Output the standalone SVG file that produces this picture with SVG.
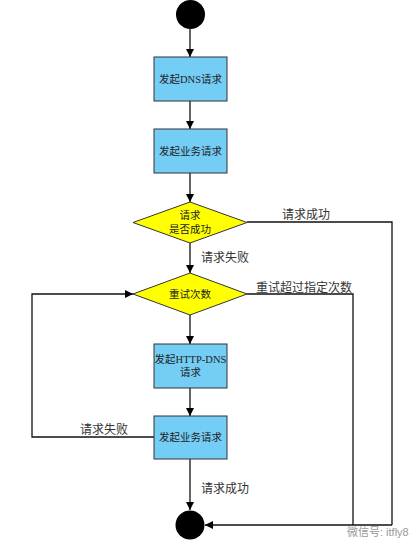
<svg xmlns="http://www.w3.org/2000/svg" width="420" height="553" viewBox="0 0 420 553">
<defs>
<marker id="arr" viewBox="0 0 10 10" refX="10" refY="5" markerWidth="8" markerHeight="8" markerUnits="userSpaceOnUse" orient="auto">
<path d="M0,0 L10,5 L0,10 z" fill="#000"/>
</marker>
<style>
.box{fill:#74CDF5;stroke:#333;stroke-width:1}
.dia{fill:#FFFF00;stroke:#333;stroke-width:1}
.term{fill:#000}
.bt{font-family:"Liberation Serif","Noto Sans CJK SC",serif;font-size:10.5px;fill:#222;text-anchor:middle}
.lbl{font-family:"Liberation Serif","Noto Sans CJK SC",serif;font-size:12px;fill:#333}
.ln{fill:none;stroke:#111;stroke-width:1.3}
.wm{font-family:"Liberation Sans","Noto Sans CJK SC",sans-serif;font-size:11px;fill:#999}
</style>
</defs>
<rect width="420" height="553" fill="#fff"/>
<g id="connectors">
<path class="ln" d="M190,29 V57" marker-end="url(#arr)"/>
<path class="ln" d="M190,101 V129" marker-end="url(#arr)"/>
<path class="ln" d="M190,173 V202" marker-end="url(#arr)"/>
<path class="ln" d="M190,243 V273" marker-end="url(#arr)"/>
<path class="ln" d="M190,315 V344" marker-end="url(#arr)"/>
<path class="ln" d="M190,388 V416" marker-end="url(#arr)"/>
<path class="ln" d="M190,459 V510" marker-end="url(#arr)"/>
<path class="ln" d="M154,437 H32 V294 H133" marker-end="url(#arr)"/>
<path class="ln" d="M247,222 H392 V525"/>
<path class="ln" d="M247,294 H353 V525"/>
<path class="ln" d="M392,525 H205" marker-end="url(#arr)"/>
<text class="lbl" x="282" y="219">请求成功</text>
<text class="lbl" x="201" y="262">请求失败</text>
<text class="lbl" x="256" y="292">重试超过指定次数</text>
<text class="lbl" x="80" y="434">请求失败</text>
<text class="lbl" x="201" y="493">请求成功</text>
</g>
<g id="start"><circle class="term" cx="190.5" cy="14.5" r="14.5"/></g>
<g id="dns"><rect class="box" x="154" y="57" width="73" height="44"/><text class="bt" x="190.5" y="83">发起DNS请求</text></g>
<g id="biz1"><rect class="box" x="154" y="129" width="73" height="44"/><text class="bt" x="190.5" y="155">发起业务请求</text></g>
<g id="check"><polygon class="dia" points="190,202 247,222.5 190,243 133,222.5"/><text class="bt" x="190" y="219">请求</text><text class="bt" x="190" y="233">是否成功</text></g>
<g id="retry"><polygon class="dia" points="190,273 247,294 190,315 133,294"/><text class="bt" x="190" y="298">重试次数</text></g>
<g id="httpdns"><rect class="box" x="154" y="344" width="73" height="44"/><text class="bt" x="190.5" y="363">发起HTTP-DNS</text><text class="bt" x="190.5" y="376">请求</text></g>
<g id="biz2"><rect class="box" x="154" y="416" width="73" height="43"/><text class="bt" x="190.5" y="441">发起业务请求</text></g>
<g id="end"><circle class="term" cx="190" cy="525" r="14.5"/></g>
<g id="watermark"><text class="wm" x="347" y="536">微信号: itfly8</text></g>
</svg>
